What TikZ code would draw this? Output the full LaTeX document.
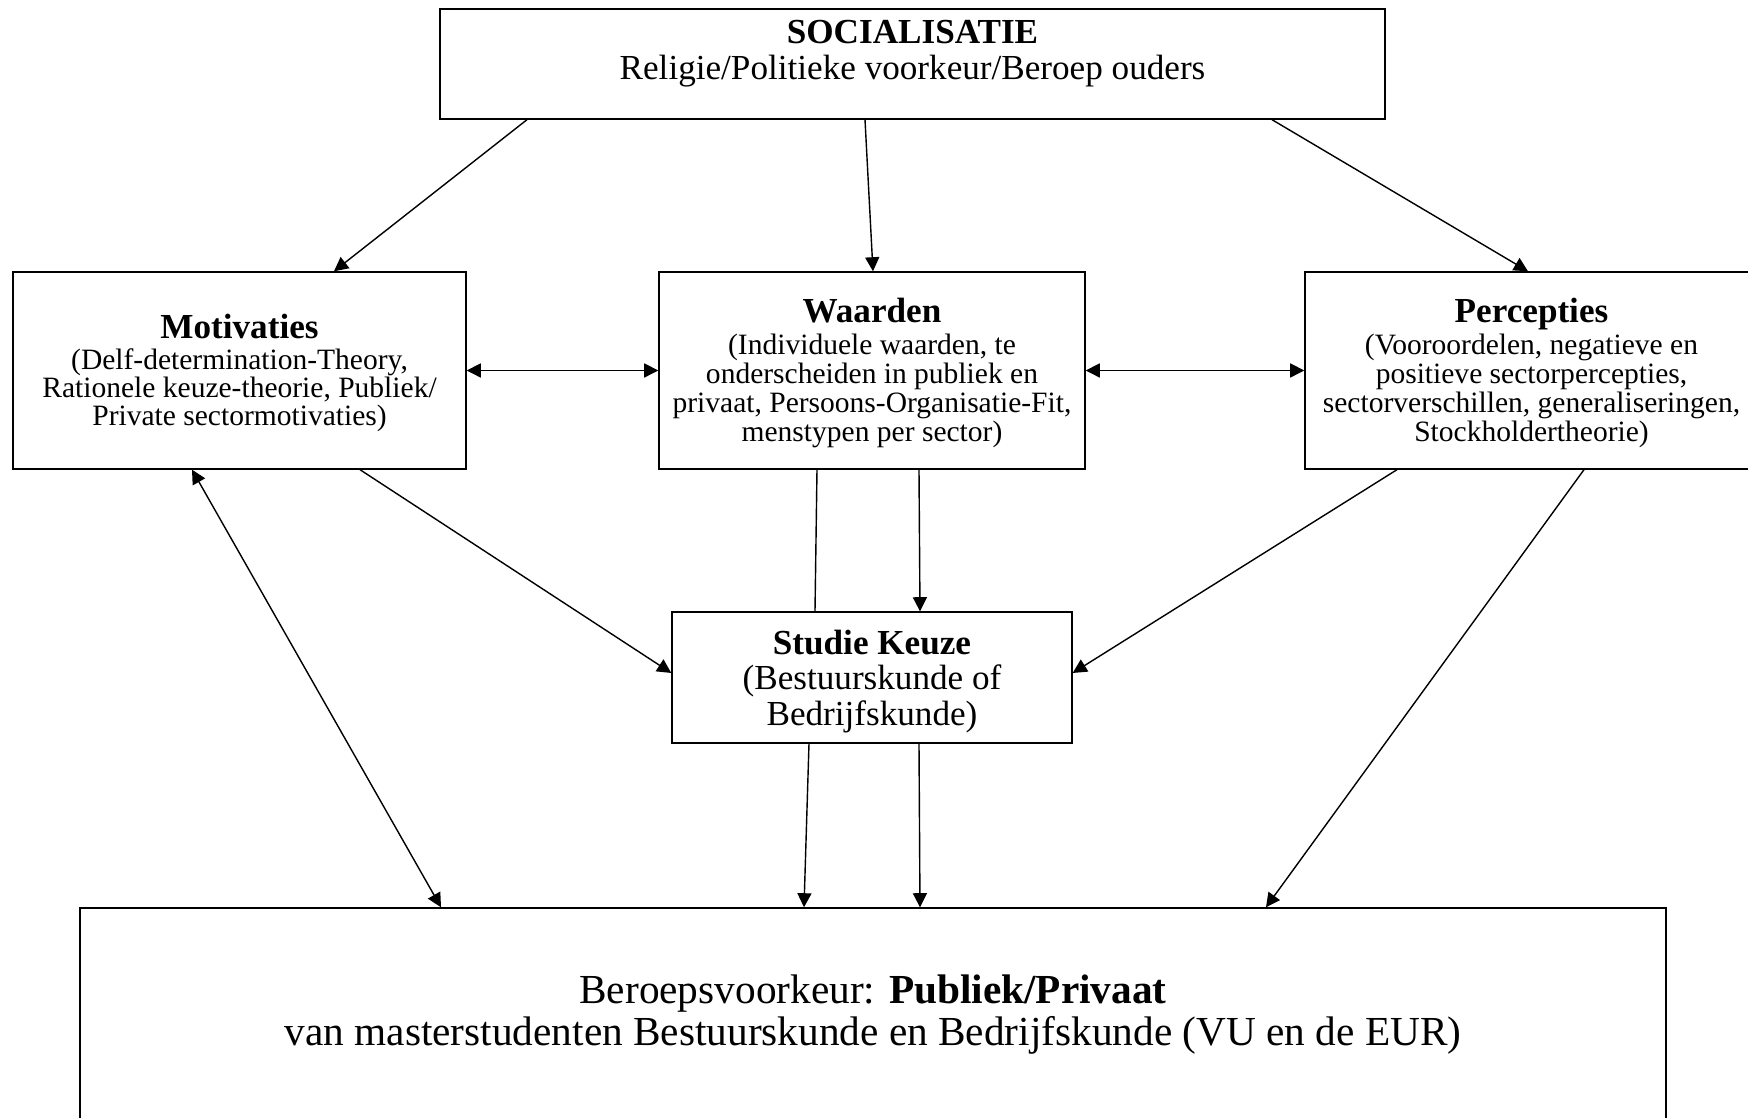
\documentclass[tikz,border=0pt]{standalone}
\usepackage{fontspec}
\setmainfont{Liberation Serif}
\usetikzlibrary{arrows.meta}
\tikzset{
    kader/.style={draw,line width=0.4pt,inner sep=0pt,align=center},
    pijl/.style={line width=0.4pt,-{Triangle[length=4pt,width=4pt]}},
    dubbel/.style={line width=0.4pt,{Triangle[length=4pt,width=4pt]}-{Triangle[length=4pt,width=4pt]}}
}
\newcommand{\kop}[1]{{\fontsize{10}{10}\selectfont\bfseries\rule{0pt}{8.3pt}#1}}
\begin{document}
\begin{tikzpicture}
    \useasboundingbox (0,0) rectangle (17.48,11.18);
    \clip (0,0) rectangle (17.48,11.18);
    \node[kader,minimum width=9.45cm,minimum height=1.10cm] (soc) at (9.125,10.54) {};
    \node[align=center,inner sep=0pt,anchor=north,font=\fontsize{10}{10.2}\selectfont] (soctekst) at ([yshift=-0.11cm]soc.north) {\textbf{SOCIALISATIE}\\Religie/Politieke voorkeur/Beroep ouders};
    \node[kader,minimum width=4.53cm,minimum height=1.97cm,font=\fontsize{8.4}{7.95}\selectfont] (mot) at (2.395,7.475) {\kop{Motivaties}\\[0.8pt](Delf-determination-Theory,\\Rationele keuze-theorie, Publiek/\\Private sectormotivaties)};
    \node[kader,minimum width=4.26cm,minimum height=1.97cm,font=\fontsize{8.4}{8.25}\selectfont] (waa) at (8.72,7.475) {\kop{Waarden}\\[0.7pt](Individuele waarden, te\\onderscheiden in publiek en\\privaat, Persoons-Organisatie-Fit,\\menstypen per sector)};
    \node[kader,minimum width=4.53cm,minimum height=1.97cm,font=\fontsize{8.4}{8.25}\selectfont] (per) at (15.315,7.475) {\kop{Percepties}\\[0.7pt](Vooroordelen, negatieve en\\positieve sectorpercepties,\\sectorverschillen, generaliseringen,\\Stockholdertheorie)};
    \node[kader,minimum width=4.00cm,minimum height=1.31cm,font=\fontsize{10}{10}\selectfont] (stu) at (8.72,4.405) {\rule{0pt}{9.2pt}\textbf{Studie Keuze}\\(Bestuurskunde of\\Bedrijfskunde)};
    \node[kader,minimum width=15.86cm,minimum height=2.14cm,font=\fontsize{11.75}{12}\selectfont] (ber) at (8.73,1.03) {Beroepsvoorkeur: \textbf{Publiek/Privaat}\\van masterstudenten Bestuurskunde en Bedrijfskunde (VU en de EUR)};

    \draw[pijl] ([xshift=-3.855cm]soc.south) -- ([xshift=0.945cm]mot.north);
    \draw[pijl] ([xshift=-0.475cm]soc.south) -- ([xshift=0.01cm]waa.north);
    \draw[pijl] ([xshift=3.595cm]soc.south) -- ([xshift=-0.035cm]per.north);
    \draw[dubbel] (mot) -- (waa);
    \draw[dubbel] (waa) -- (per);
    \draw[pijl] ([xshift=1.205cm]mot.south) -- ([yshift=0.045cm]stu.west);
    \draw[dubbel] ([xshift=-0.475cm]mot.south) -- ([xshift=-4.32cm]ber.north);
    \draw ([xshift=-0.55cm]waa.south) -- ([xshift=-0.57cm]stu.north);
    \draw[pijl] ([xshift=0.47cm]waa.south) -- ([xshift=0.48cm]stu.north);
    \draw[pijl] ([xshift=-1.345cm]per.south) -- ([yshift=0.045cm]stu.east);
    \draw[pijl] ([xshift=0.525cm]per.south) -- ([xshift=3.93cm]ber.north);
    \draw[pijl] ([xshift=-0.63cm]stu.south) -- ([xshift=-0.69cm]ber.north);
    \draw[pijl] ([xshift=0.47cm]stu.south) -- ([xshift=0.47cm]ber.north);
\end{tikzpicture}
\end{document}
